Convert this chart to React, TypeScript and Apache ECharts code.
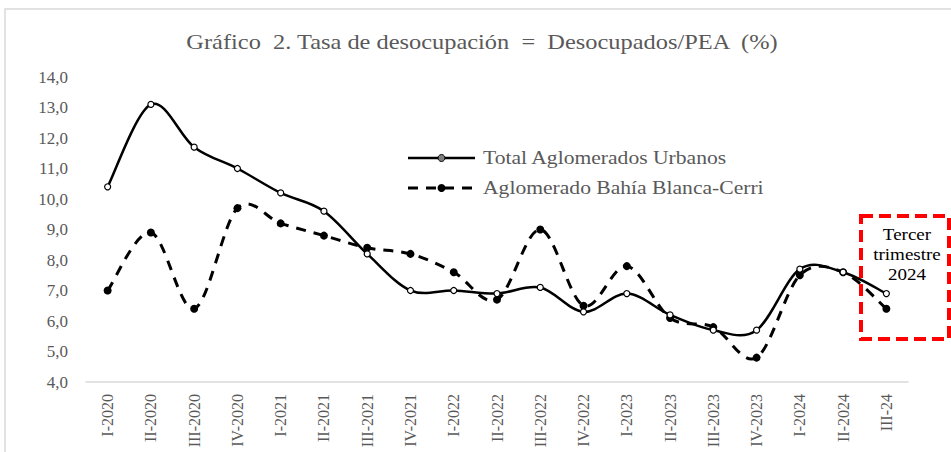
import React, { useEffect, useRef } from "react";
import * as echarts from "echarts";

const categories = [
  "I-2020", "II-2020", "III-2020", "IV-2020",
  "I-2021", "II-2021", "III-2021", "IV-2021",
  "I-2022", "II-2022", "III-2022", "IV-2022",
  "I-2023", "II-2023", "III-2023", "IV-2023",
  "I-2024", "II-2024", "III-24",
];
const totalAglomerados = [10.4, 13.1, 11.7, 11.0, 10.2, 9.6, 8.2, 7.0, 7.0, 6.9, 7.1, 6.3, 6.9, 6.2, 5.7, 5.7, 7.7, 7.6, 6.9];
const bahiaBlanca = [7.0, 8.9, 6.4, 9.7, 9.2, 8.8, 8.4, 8.2, 7.6, 6.7, 9.0, 6.5, 7.8, 6.1, 5.8, 4.8, 7.5, 7.6, 6.4];
const seriesNames = ["Total Aglomerados Urbanos", "Aglomerado Bahía Blanca-Cerri"];
const titleText = "Gráfico  2. Tasa de desocupación  =  Desocupados/PEA  (%)";
const noteText = "Tercer\ntrimestre\n2024";

const FONT = "'Liberation Serif', 'Times New Roman', serif";
const GRAY = "#595959";
const DASH = [10, 8];

// Excel-like smoothed curve (Catmull-Rom -> cubic Bezier), positions from the axes via api.coord
function makeCurveRenderer(values: number[], lineWidth: number, dash: number[] | null) {
  return (_params: any, api: any) => {
    const pts: number[][] = values.map((v, i) => api.coord([i, v]));
    let d = `M${pts[0][0]},${pts[0][1]}`;
    for (let i = 0; i < pts.length - 1; i++) {
      const p0 = pts[i - 1] || pts[i];
      const p1 = pts[i];
      const p2 = pts[i + 1];
      const p3 = pts[i + 2] || p2;
      const c1x = p1[0] + (p2[0] - p0[0]) / 6;
      const c1y = p1[1] + (p2[1] - p0[1]) / 6;
      const c2x = p2[0] - (p3[0] - p1[0]) / 6;
      const c2y = p2[1] - (p3[1] - p1[1]) / 6;
      d += ` C${c1x},${c1y} ${c2x},${c2y} ${p2[0]},${p2[1]}`;
    }
    const style: any = { fill: "none", stroke: "#000", lineWidth };
    if (dash) style.lineDash = dash;
    return { type: "path", shape: { pathData: d }, style };
  };
}

export default function App() {
  const ref = useRef<HTMLDivElement>(null);
  useEffect(() => {
    if (!ref.current) return;
    const chart = echarts.init(ref.current, undefined, { renderer: "svg" });
    chart.setOption({
      animation: false,
      backgroundColor: "#fff",
      grid: { left: 86, right: 43, top: 77, bottom: 70, containLabel: false },
      xAxis: {
        type: "category",
        data: categories,
        boundaryGap: true,
        axisLine: { lineStyle: { color: "#d9d9d9", width: 1.5 } },
        axisTick: { show: false },
        axisLabel: {
          rotate: 90,
          interval: 0,
          margin: 12,
          fontFamily: FONT,
          fontSize: 16,
          color: GRAY,
        },
      },
      yAxis: {
        type: "value",
        min: 4,
        max: 14,
        interval: 1,
        splitLine: { show: false },
        axisLine: { show: false },
        axisTick: { show: false },
        axisLabel: {
          margin: 18,
          fontFamily: FONT,
          fontSize: 17,
          color: GRAY,
          formatter: (v: number) => v.toFixed(1).replace(".", ","),
        },
      },
      series: [
        {
          name: seriesNames[0] + " curva",
          type: "custom",
          coordinateSystem: "cartesian2d",
          data: [[0, totalAglomerados[0]]],
          renderItem: makeCurveRenderer(totalAglomerados, 2.5, null),
          silent: true,
          clip: false,
          z: 3,
        },
        {
          name: seriesNames[1] + " curva",
          type: "custom",
          coordinateSystem: "cartesian2d",
          data: [[0, bahiaBlanca[0]]],
          renderItem: makeCurveRenderer(bahiaBlanca, 3, DASH),
          silent: true,
          clip: false,
          z: 2,
        },
        {
          name: seriesNames[0],
          type: "line",
          data: totalAglomerados,
          symbol: "circle",
          symbolSize: 6,
          lineStyle: { opacity: 0 },
          itemStyle: { color: "#fff", borderColor: "#000", borderWidth: 1.2 },
          z: 5,
        },
        {
          name: seriesNames[1],
          type: "line",
          data: bahiaBlanca,
          symbol: "circle",
          symbolSize: 8,
          lineStyle: { opacity: 0 },
          itemStyle: { color: "#000" },
          z: 4,
        },
      ],
      graphic: [
        {
          type: "rect",
          shape: { x: 5, y: 9, width: 960, height: 460 },
          style: { fill: "none", stroke: "#d9d9d9", lineWidth: 1.5 },
          silent: true,
          z: -1,
        },
        {
          type: "text",
          x: 482,
          y: 42,
          scaleX: 1.22,
          style: {
            text: titleText,
            fill: GRAY,
            font: `20px ${FONT}`,
            align: "center",
            verticalAlign: "middle",
          },
        },
        // legend
        {
          type: "line",
          shape: { x1: 408, y1: 158, x2: 475, y2: 158 },
          style: { stroke: "#000", lineWidth: 2.5 },
        },
        {
          type: "circle",
          shape: { cx: 441.5, cy: 158, r: 3.5 },
          style: { fill: "#7f7f7f", stroke: "#000", lineWidth: 1 },
        },
        {
          type: "text",
          x: 483,
          y: 158,
          scaleX: 1.2,
          style: {
            text: seriesNames[0],
            fill: GRAY,
            font: `18px ${FONT}`,
            align: "left",
            verticalAlign: "middle",
          },
        },
        {
          type: "line",
          shape: { x1: 408, y1: 188, x2: 475, y2: 188 },
          style: { stroke: "#000", lineWidth: 3, lineDash: DASH },
        },
        {
          type: "circle",
          shape: { cx: 441.5, cy: 188, r: 4 },
          style: { fill: "#000" },
        },
        {
          type: "text",
          x: 483,
          y: 188,
          scaleX: 1.2,
          style: {
            text: seriesNames[1],
            fill: GRAY,
            font: `18px ${FONT}`,
            align: "left",
            verticalAlign: "middle",
          },
        },
        // highlight box
        {
          type: "rect",
          shape: { x: 861, y: 216, width: 88, height: 123 },
          style: { fill: "none", stroke: "#ff0000", lineWidth: 4, lineDash: [12, 6] },
          silent: true,
          z: 10,
        },
        {
          type: "text",
          x: 907,
          y: 224,
          scaleX: 1.12,
          style: {
            text: noteText,
            fill: "#000",
            font: `17px ${FONT}`,
            align: "center",
            lineHeight: 20,
          },
          z: 10,
        },
      ],
    });
    return () => chart.dispose();
  }, []);
  return (
    <div style={{ position: "fixed", left: 0, top: 0, width: 951, height: 452 }}>
      <div ref={ref} style={{ width: 951, height: 452 }} />
    </div>
  );
}
